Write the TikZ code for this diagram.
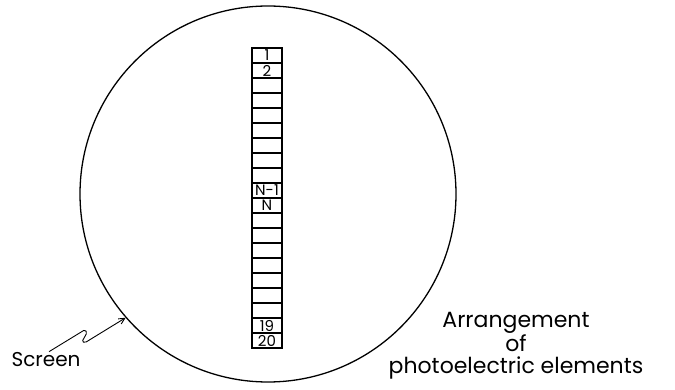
\documentclass[tikz,border=0pt]{standalone}
\usepackage{fontspec}
\setmainfont{Poppins}
\usetikzlibrary{arrows.meta, positioning}

\begin{document}
\begin{tikzpicture}[x=1pt, y=-1pt,
  screenring/.style={circle, draw=black, line width=1.3pt, minimum size=376pt, inner sep=0pt},
  cell/.style={rectangle, draw=black, line width=1.2pt, minimum width=30pt, minimum height=15pt,
               inner sep=0pt, font=\fontsize{15}{15}\selectfont},
  lbl/.style={font=\fontsize{#1}{22}\selectfont, inner sep=0pt, align=center},
  arr/.style={-{Straight Barb[length=6pt, width=6pt]}, line width=0.9pt, rounded corners=1.5pt}
]
\useasboundingbox (0,0) rectangle (675,390);

% ---- screen ----
\node[screenring] (scr) at (268,194) {};

% ---- column of photoelectric elements ----
\foreach \k/\txt in {1/1, 2/2, 3/, 4/, 5/, 6/, 7/, 8/, 9/, 10/N-1,
                     11/N, 12/, 13/, 14/, 15/, 16/, 17/, 18/, 19/19, 20/20}
  \node[cell] (cell-\k) at (267, 40.5+15*\k) {\txt};

% ---- labels ----
\node[lbl=20, anchor=base] (screen) at (46,366) {Screen};
\node[lbl=22, anchor=base] (arrange) at (516,373) {Arrangement\\of\\photoelectric elements};

\draw[arr] ([xshift=3pt]screen.north) -- ++(36,-22) -- ++(2,3) -- ++(-5,9) -- ++(3,1)
  -- (scr.221.3);

\end{tikzpicture}
\end{document}
